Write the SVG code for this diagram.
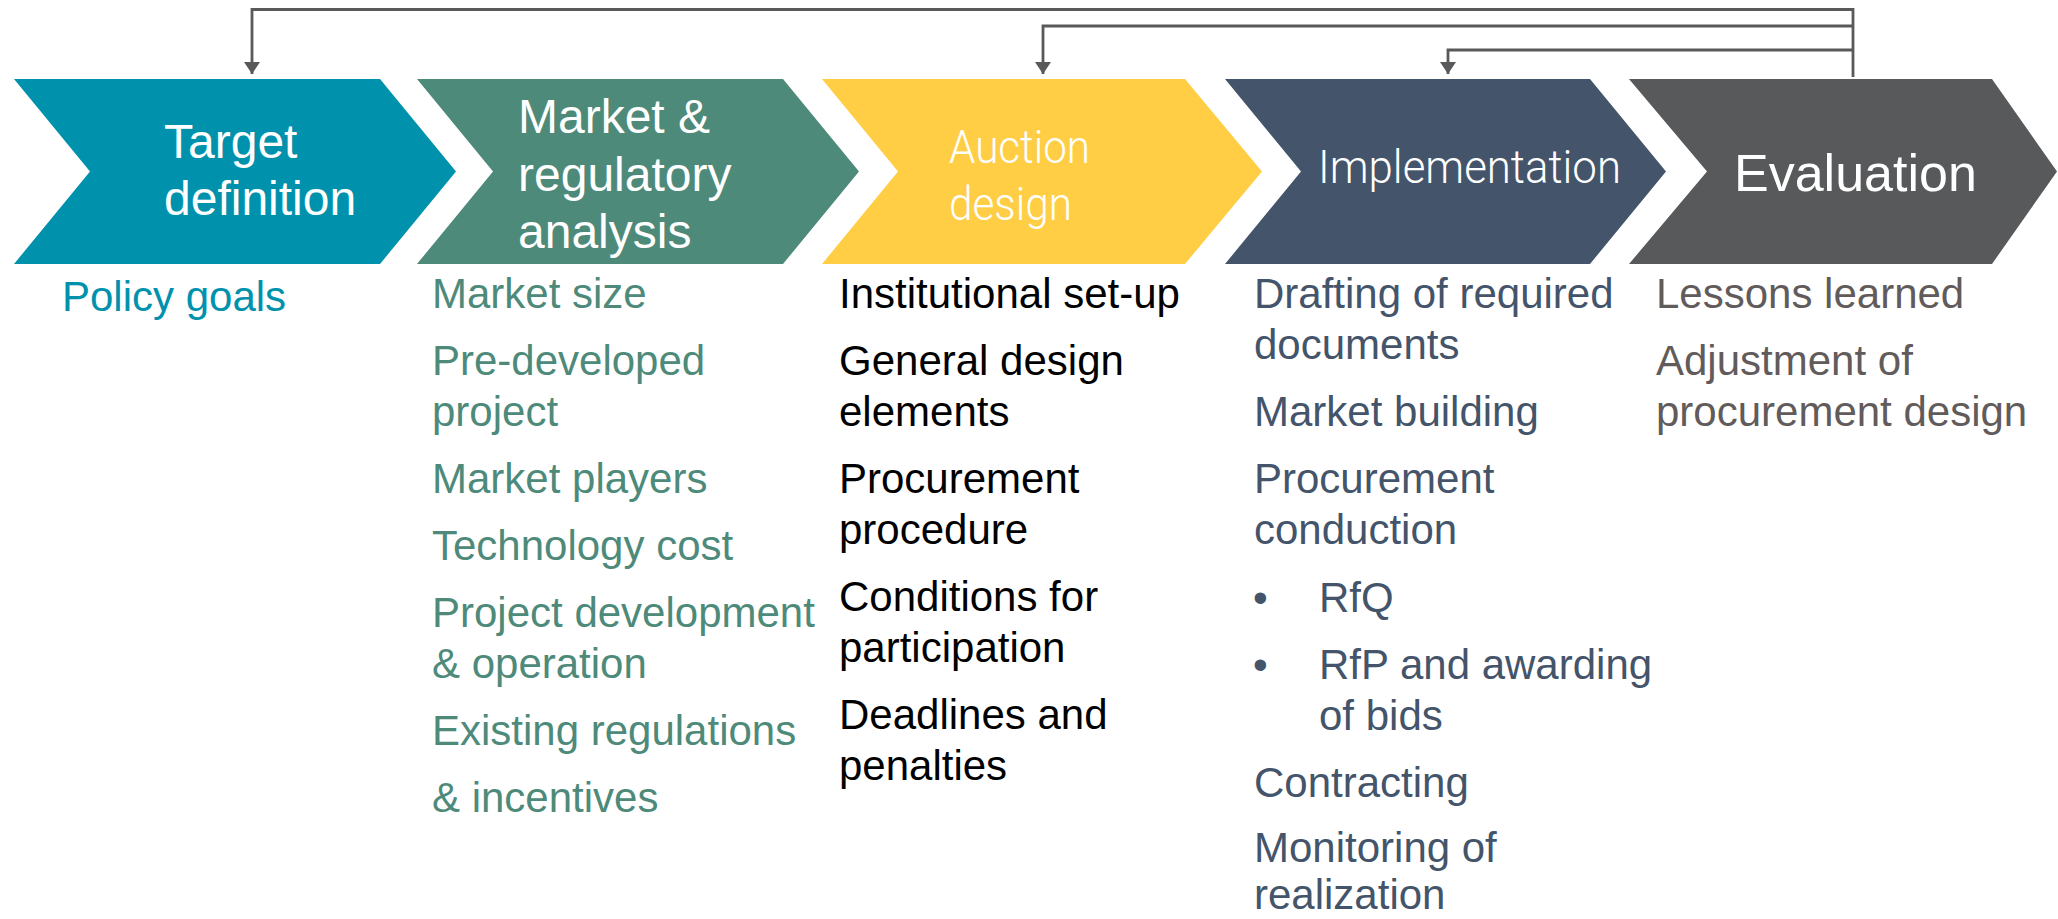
<svg xmlns="http://www.w3.org/2000/svg" width="2058" height="919" viewBox="0 0 2058 919">
<defs>
<style>
.body{font-family:"Liberation Sans",Arial,sans-serif;font-size:42px}
.head{font-family:"Liberation Sans",Arial,sans-serif;font-size:48px;fill:#fff}
.thin{font-family:Roboto,"Open Sans",sans-serif;font-weight:300;font-size:46px;fill:#fff}
.conn{fill:none;stroke:#58595B;stroke-width:2.8}
.c-teal{fill:#0092AD}.t-teal{fill:#0092AD}
.c-green{fill:#4E8A7A}.t-green{fill:#4E8A7A}
.c-yellow{fill:#FFCE44}.t-black{fill:#000}
.c-navy{fill:#44546A}.t-navy{fill:#44546A}
.c-gray{fill:#58595B}.t-gray{fill:#625B5B}
</style>
<marker id="arr" markerUnits="userSpaceOnUse" markerWidth="14" markerHeight="16" refX="12" refY="8" orient="auto" viewBox="0 0 14 16">
<path d="M0,0 L12,8 L0,16 z" fill="#58595B"/>
</marker>
</defs>
<rect width="2058" height="919" fill="#fff"/>

<g id="connectors">
<path class="conn" d="M1853,77 V9.5 H252 V74" marker-end="url(#arr)"/>
<path class="conn" d="M1853,26 H1043 V74" marker-end="url(#arr)"/>
<path class="conn" d="M1853,50 H1448 V74" marker-end="url(#arr)"/>
</g>

<g id="target-definition">
<polygon class="c-teal" points="14,79 380,79 456,171.5 380,264 14,264 90,171.5"/>
<text class="head" x="164" y="158">Target</text>
<text class="head" x="164" y="215">definition</text>
<text class="body t-teal" x="62" y="311">Policy goals</text>
</g>

<g id="market-analysis">
<polygon class="c-green" points="417,79 783,79 859,171.5 783,264 417,264 493,171.5"/>
<text class="head" x="518" y="133">Market &amp;</text>
<text class="head" x="518" y="191">regulatory</text>
<text class="head" x="518" y="248">analysis</text>
<g class="body t-green">
<text x="432" y="308">Market size</text>
<text x="432" y="375">Pre-developed</text>
<text x="432" y="426">project</text>
<text x="432" y="493">Market players</text>
<text x="432" y="560">Technology cost</text>
<text x="432" y="627">Project development</text>
<text x="432" y="678">&amp; operation</text>
<text x="432" y="745">Existing regulations</text>
<text x="432" y="812">&amp; incentives</text>
</g>
</g>

<g id="auction-design">
<polygon class="c-yellow" points="822,79 1185,79 1262,171.5 1185,264 822,264 898,171.5"/>
<text class="thin" x="949" y="163" textLength="141" lengthAdjust="spacingAndGlyphs">Auction</text>
<text class="thin" x="949" y="220" textLength="123" lengthAdjust="spacingAndGlyphs">design</text>
<g class="body t-black">
<text x="839" y="308">Institutional set-up</text>
<text x="839" y="375">General design</text>
<text x="839" y="426">elements</text>
<text x="839" y="493">Procurement</text>
<text x="839" y="544">procedure</text>
<text x="839" y="611">Conditions for</text>
<text x="839" y="662">participation</text>
<text x="839" y="729">Deadlines and</text>
<text x="839" y="780">penalties</text>
</g>
</g>

<g id="implementation">
<polygon class="c-navy" points="1225,79 1590,79 1666,171.5 1590,264 1225,264 1301,171.5"/>
<text class="thin" x="1318" y="183" textLength="303" lengthAdjust="spacingAndGlyphs">Implementation</text>
<g class="body t-navy">
<text x="1254" y="308">Drafting of required</text>
<text x="1254" y="359">documents</text>
<text x="1254" y="426">Market building</text>
<text x="1254" y="493">Procurement</text>
<text x="1254" y="544">conduction</text>
<text x="1253" y="612">•</text>
<text x="1319" y="612">RfQ</text>
<text x="1253" y="679">•</text>
<text x="1319" y="679">RfP and awarding</text>
<text x="1319" y="730">of bids</text>
<text x="1254" y="797">Contracting</text>
<text x="1254" y="862">Monitoring of</text>
<text x="1254" y="909">realization</text>
</g>
</g>

<g id="evaluation">
<polygon class="c-gray" points="1629,79 1992,79 2057,171.5 1992,264 1629,264 1707,171.5"/>
<text x="1734" y="191" style="font-family:'Liberation Sans',Arial,sans-serif;font-size:52px;fill:#fff">Evaluation</text>
<g class="body t-gray">
<text x="1656" y="308">Lessons learned</text>
<text x="1656" y="375">Adjustment of</text>
<text x="1656" y="426">procurement design</text>
</g>
</g>
</svg>
